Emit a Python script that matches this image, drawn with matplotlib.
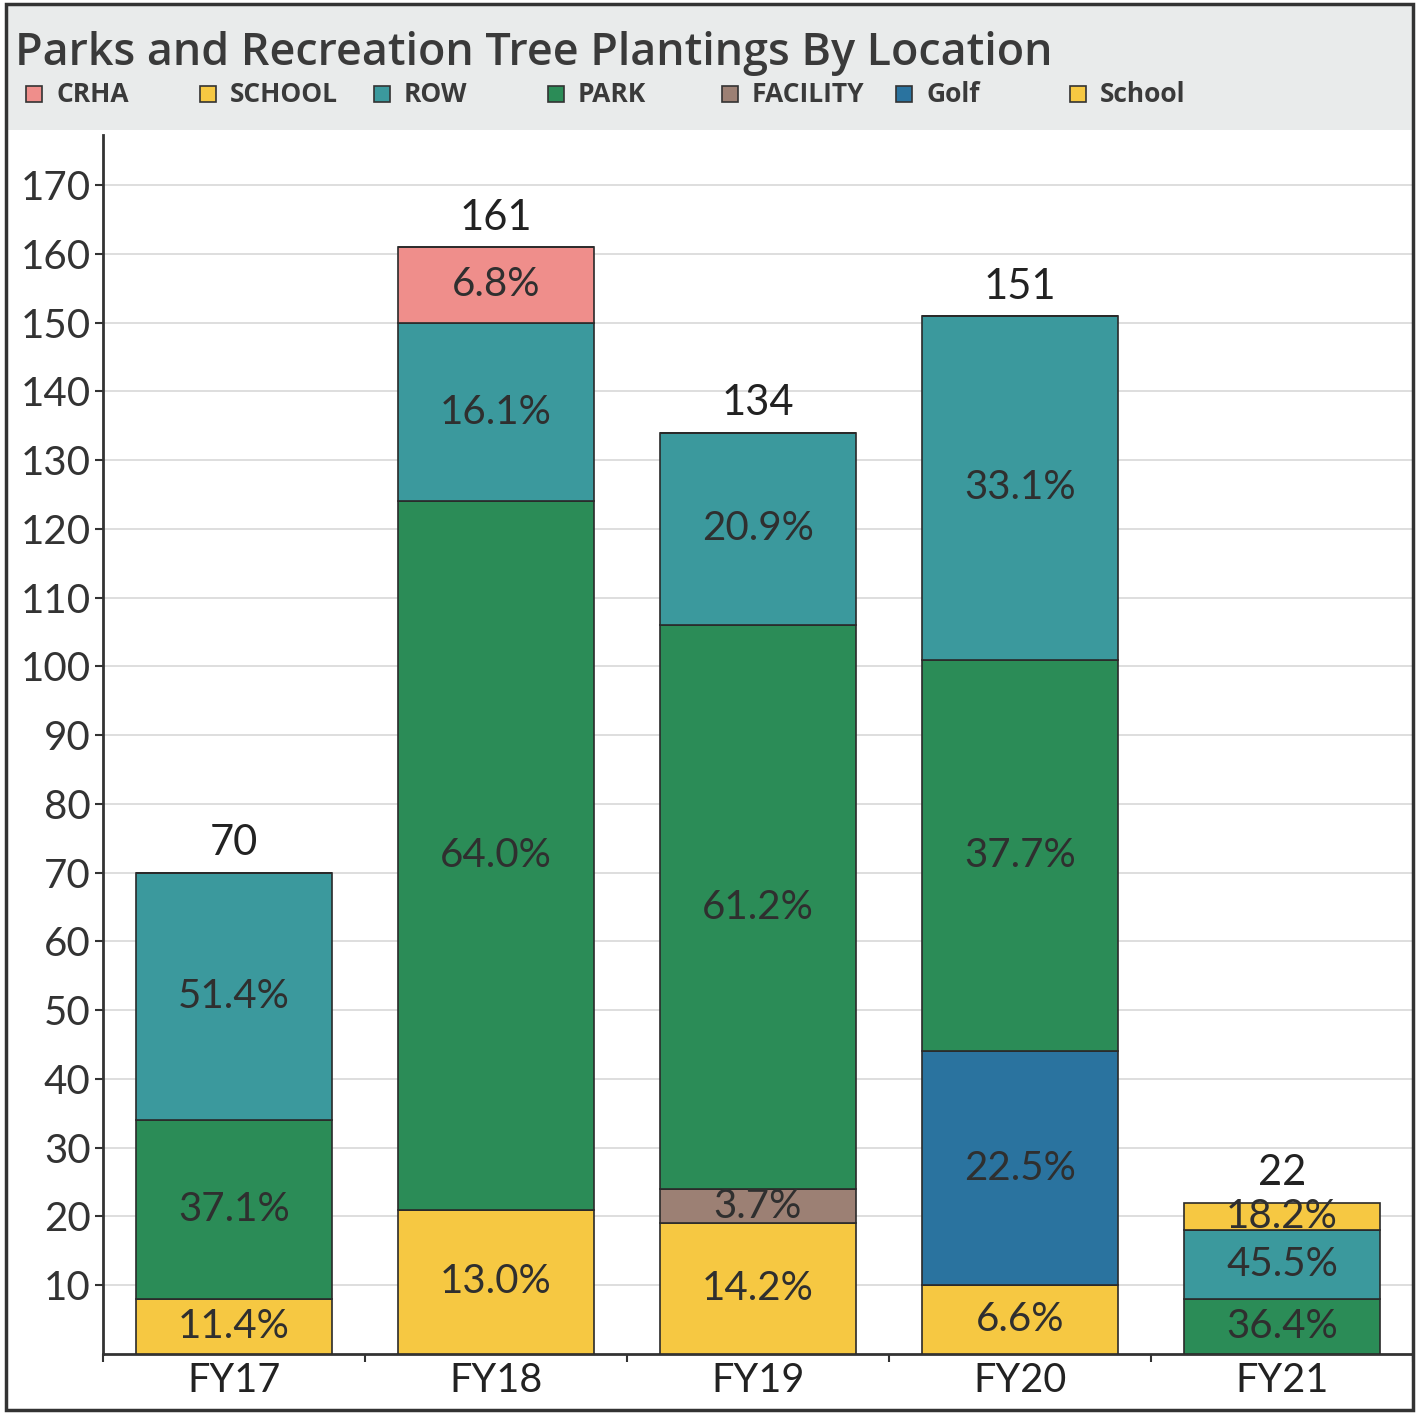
import matplotlib
matplotlib.use("Agg")
import matplotlib.pyplot as plt
from matplotlib.patches import Rectangle
import numpy as np

categories = ["FY17", "FY18", "FY19", "FY20", "FY21"]
series_names = ["SCHOOL", "FACILITY", "Golf", "PARK", "ROW", "CRHA", "School"]
SCHOOL = [8, 21, 19, 10, 0]
FACILITY = [0, 0, 5, 0, 0]
Golf = [0, 0, 0, 34, 0]
PARK = [26, 103, 82, 57, 8]
ROW = [36, 26, 28, 50, 10]
CRHA = [0, 11, 0, 0, 0]
School = [0, 0, 0, 0, 4]
totals = [70, 161, 134, 151, 22]
pct_labels = {
    "SCHOOL": ["11.4%", "13.0%", "14.2%", "6.6%", ""],
    "FACILITY": ["", "", "3.7%", "", ""],
    "Golf": ["", "", "", "22.5%", ""],
    "PARK": ["37.1%", "64.0%", "61.2%", "37.7%", "36.4%"],
    "ROW": ["51.4%", "16.1%", "20.9%", "33.1%", "45.5%"],
    "CRHA": ["", "6.8%", "", "", ""],
    "School": ["", "", "", "", "18.2%"],
}
legend_order = ["CRHA", "SCHOOL", "ROW", "PARK", "FACILITY", "Golf", "School"]
colors = {
    "SCHOOL": "#f6c842", "FACILITY": "#9c8074", "Golf": "#2a739f",
    "PARK": "#2b8c57", "ROW": "#3b999d", "CRHA": "#ef8e8b", "School": "#f6c842",
}
values = {"SCHOOL": SCHOOL, "FACILITY": FACILITY, "Golf": Golf, "PARK": PARK,
          "ROW": ROW, "CRHA": CRHA, "School": School}

plt.rcParams['font.family'] = ['Lato', 'DejaVu Sans']
W, H = 1419, 1414
fig = plt.figure(figsize=(W/100, H/100), dpi=100)

# header band
fig.patches.append(Rectangle((6/W, 1-130/H), (1413-6)/W, (130-6)/H, transform=fig.transFigure,
                             facecolor="#e9ebeb", edgecolor="none", zorder=0))
# outer border
fig.patches.append(Rectangle((6/W, 4/H), (1413-6)/W, (1410-4)/H, transform=fig.transFigure,
                             facecolor="none", edgecolor="#333333", lw=2.5, zorder=5))

fig.text(15/W, 1-53/H, "Parks and Recreation Tree Plantings By Location", fontsize=32.3,
         family=['Open Sans', 'DejaVu Sans'], fontweight="semibold", color="#3a3a3a",
         va="center", ha="left")
leg_x = [26, 200, 374, 548, 722, 896, 1070]
for name, lx in zip(legend_order, leg_x):
    fig.patches.append(Rectangle((lx/W, 1-102/H), 16/W, 16/H, transform=fig.transFigure,
                                 facecolor=colors[name], edgecolor="#333333", lw=1.2, zorder=3))
    fig.text((lx+30)/W, 1-95/H, name, fontsize=19, fontweight="bold",
             family=['Open Sans', 'DejaVu Sans'], color="#3a3a3a", va="center", ha="left")

ax = fig.add_axes([103/W, (H-1354)/H, (1413-103)/W, (1354-135)/H])
x = np.arange(len(categories))
bottom = np.zeros(len(categories))
for name in series_names:
    vals = np.array(values[name], dtype=float)
    ax.bar(x, vals, width=0.75, bottom=bottom, color=colors[name], edgecolor="#2a2a2a",
           linewidth=1.2, zorder=3)
    for i, v in enumerate(vals):
        lab = pct_labels[name][i]
        if v > 0 and lab:
            ax.text(x[i], bottom[i] + v/2, lab, ha="center", va="center", fontsize=29,
                    color="#2f2f2f", zorder=4)
    bottom += vals
for i, t in enumerate(totals):
    ax.text(x[i], t + 1.5, str(t), ha="center", va="bottom", fontsize=30, color="#222222")

ax.set_xlim(-0.5, 4.5)
ax.set_ylim(0, 177.3)
ax.set_yticks(np.arange(10, 171, 10))
ax.set_yticklabels([str(v) for v in range(10, 171, 10)], fontsize=29, color="#333333")
ax.set_xticks(x)
ax.set_xticklabels(categories, fontsize=28.5, color="#222222")
ax.set_xticks(np.arange(-0.5, 5, 1), minor=True)
ax.tick_params(axis="x", which="major", length=0, pad=6)
ax.tick_params(axis="x", which="minor", length=6, width=1.5, color="#333333")
ax.tick_params(axis="y", length=6, width=1.5, color="#333333", pad=3)
ax.grid(axis="y", color="#d8d8d8", lw=1.2, zorder=0)
for s in ["top", "right"]:
    ax.spines[s].set_visible(False)
ax.spines["left"].set_linewidth(2)
ax.spines["bottom"].set_linewidth(2)
ax.spines["left"].set_color("#333333")
ax.spines["bottom"].set_color("#333333")

fig.savefig("out.png", dpi=100)
